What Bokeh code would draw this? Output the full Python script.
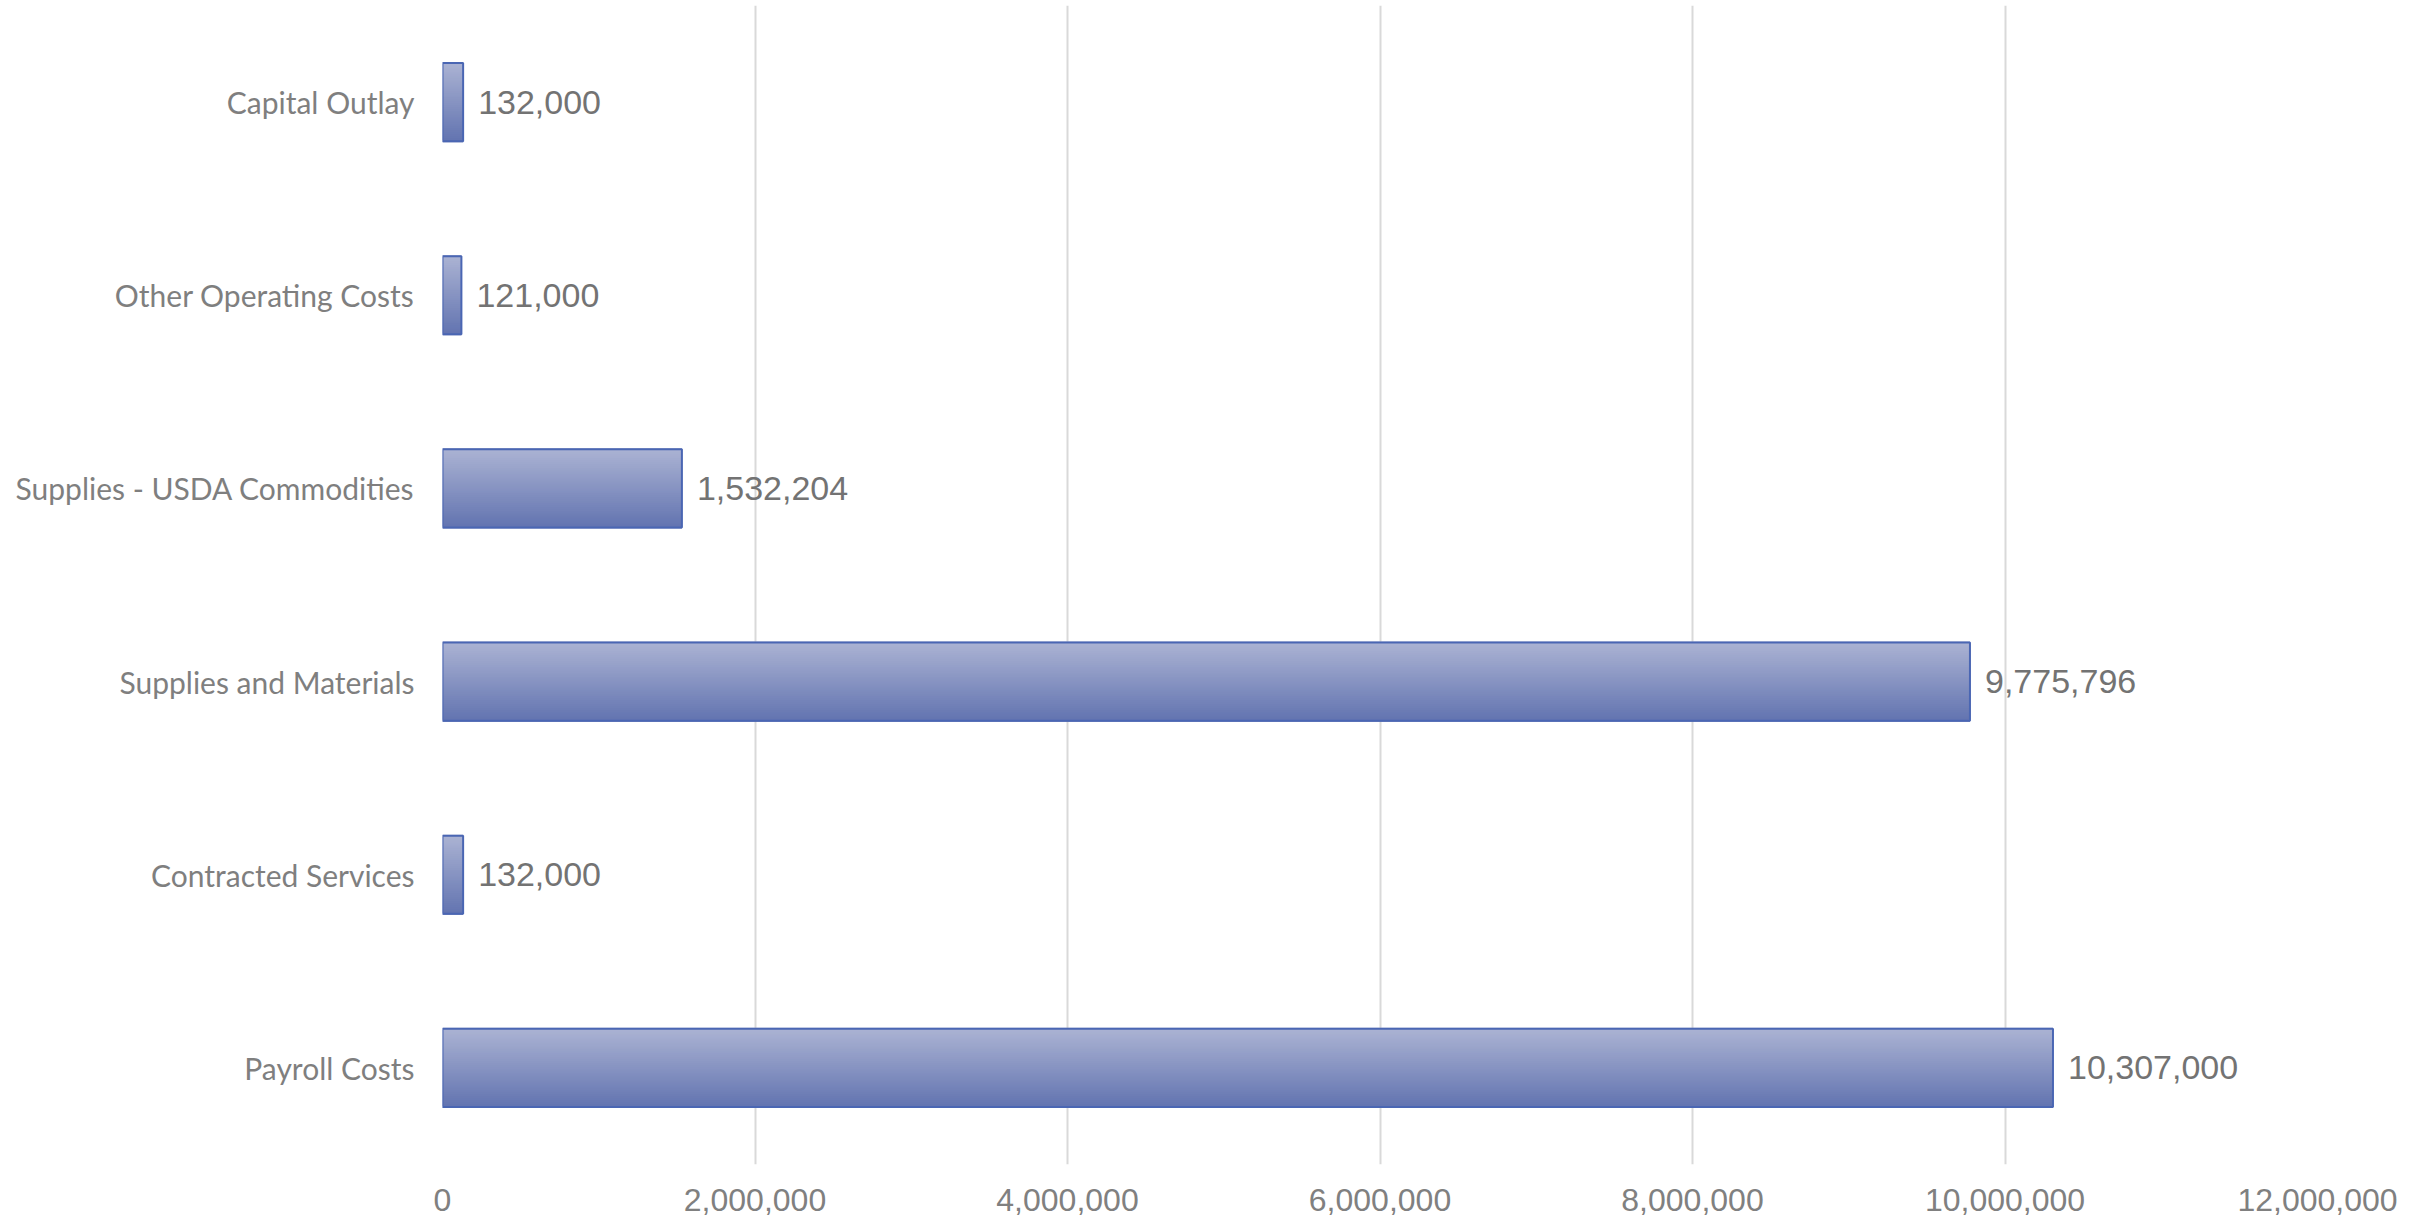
from bokeh.plotting import figure
from bokeh.models import ColumnDataSource, FactorRange, Range1d, NumeralTickFormatter, FixedTicker
from bokeh.transform import dodge
from bokeh.core.properties import value
from bokeh.embed import file_html
from bokeh.resources import INLINE

# ---- data (top to bottom as shown) ----
categories = [
    "Capital Outlay",
    "Other Operating Costs",
    "Supplies - USDA Commodities",
    "Supplies and Materials",
    "Contracted Services",
    "Payroll Costs",
]
amounts = [132000, 121000, 1532204, 9775796, 132000, 10307000]
x_ticks = [0, 2000000, 4000000, 6000000, 8000000, 10000000, 12000000]

labels = [f"{v:,}" for v in amounts]
src = ColumnDataSource(data=dict(cat=categories, val=amounts, lab=labels))

W, H = 2425, 1220
p = figure(
    width=W, height=H,
    y_range=FactorRange(factors=list(reversed(categories))),
    x_range=Range1d(0, 12000000),
    output_backend="svg", toolbar_location=None,
    min_border_left=442, min_border_right=108,
    min_border_top=5, min_border_bottom=56,
)
p.outline_line_color = None
p.background_fill_color = "white"
p.border_fill_color = "white"

# gridlines
p.ygrid.grid_line_color = None
p.xgrid.grid_line_color = "#d9d9d9"
p.xgrid.grid_line_width = 2
p.xgrid.ticker = FixedTicker(ticks=x_ticks)

# bars with vertical gradient (light top -> darker bottom)
BAR_H = 0.405
N = 40
top = (171, 179, 211)
bot = (100, 117, 177)
for i in range(N):
    t = i / (N - 1)
    c = tuple(int(round(top[k] + (bot[k] - top[k]) * t)) for k in range(3))
    col = "#%02x%02x%02x" % c
    off = BAR_H / 2 - (i + 0.5) * BAR_H / N
    p.hbar(y=dodge("cat", off, range=p.y_range), left=0, right="val",
           height=BAR_H / N * 2.0, fill_color=col, line_color=None, source=src)
p.hbar(y="cat", left=0, right="val", height=BAR_H, fill_alpha=0,
       line_color="#4a66b3", line_width=2, source=src)

# value labels
p.text(x="val", y="cat", text="lab", source=src, x_offset=15,
       text_align="left", text_baseline="middle",
       text_font=value("Liberation Sans"), text_font_size="34px",
       text_color="#737373")

# axes
p.xaxis.ticker = FixedTicker(ticks=x_ticks)
p.xaxis.formatter = NumeralTickFormatter(format="0,0")
p.xaxis.axis_line_color = None
p.xaxis.major_tick_line_color = None
p.xaxis.minor_tick_line_color = None
p.xaxis.major_tick_out = 0
p.xaxis.major_label_standoff = 24
p.xaxis.major_label_text_font = "Liberation Sans"
p.xaxis.major_label_text_font_size = "32px"
p.xaxis.major_label_text_color = "#808080"

p.yaxis.axis_line_color = None
p.yaxis.major_tick_line_color = None
p.yaxis.major_tick_out = 0
p.yaxis.major_label_standoff = 28
p.yaxis.major_label_text_font = "Lato"
p.yaxis.major_label_text_font_size = "30px"
p.yaxis.major_label_text_color = "#7f7f7f"

open("out.html", "w").write(file_html(p, INLINE))
